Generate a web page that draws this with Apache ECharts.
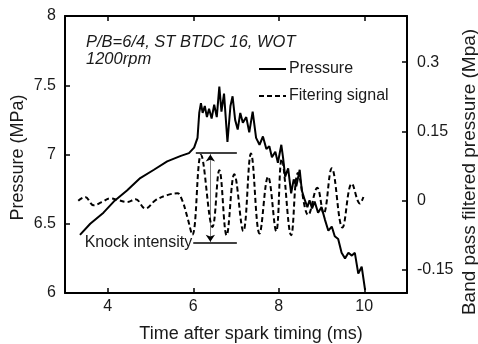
<!DOCTYPE html>
<html>
<head>
<meta charset="utf-8">
<script src="https://cdn.jsdelivr.net/npm/echarts@6/dist/echarts.min.js"></script>
<style>
  html, body { margin: 0; padding: 0; background: #fff; }
  #knock-chart { width: 478px; height: 344px; }
</style>
</head>
<body>
<div id="knock-chart"></div>
<script>
// 轴刻度
var timeTicks = [4, 6, 8, 10]
var filterTicks = [-0.15, 0, 0.15, 0.3]

// 压力曲线 (ms, MPa)
var pressureTime = [3.35, 3.59, 3.9, 4.14, 4.45, 4.76, 5.08, 5.39, 5.71, 5.9, 6.02, 6.1, 6.14, 6.18, 6.22, 6.27, 6.32, 6.37, 6.43, 6.49, 6.55, 6.61, 6.66, 6.72, 6.8, 6.87, 6.92, 6.98, 7.04, 7.1, 7.16, 7.24, 7.31, 7.39, 7.47, 7.55, 7.63, 7.71, 7.78, 7.84, 7.92, 7.98, 8.06, 8.1, 8.15, 8.22, 8.29, 8.35, 8.41, 8.49, 8.54, 8.61, 8.67, 8.72, 8.78, 8.84, 8.92, 9.0, 9.08, 9.16, 9.24, 9.31, 9.39, 9.47, 9.55, 9.63, 9.71, 9.78, 9.86, 9.94, 10.02]
var pressureValue = [6.42, 6.5, 6.58, 6.66, 6.74, 6.83, 6.89, 6.95, 6.99, 7.01, 7.05, 7.12, 7.3, 7.37, 7.3, 7.35, 7.27, 7.33, 7.26, 7.36, 7.27, 7.49, 7.31, 7.44, 7.09, 7.35, 7.42, 7.25, 7.18, 7.3, 7.23, 7.27, 7.16, 7.31, 7.12, 7.07, 7.13, 7.04, 7.06, 6.98, 7.02, 6.94, 7.07, 6.98, 6.84, 6.9, 6.72, 6.82, 6.77, 6.89, 6.74, 6.67, 6.62, 6.67, 6.61, 6.66, 6.58, 6.62, 6.53, 6.45, 6.48, 6.41, 6.39, 6.29, 6.25, 6.29, 6.27, 6.29, 6.14, 6.19, 6.02]

// 带通滤波信号 (ms, MPa)
var filterTime = [3.31, 3.47, 3.67, 3.86, 4.06, 4.25, 4.45, 4.65, 4.88, 5.12, 5.39, 5.63, 5.74, 5.86, 5.98, 6.18, 6.45, 6.61, 6.78, 6.96, 7.17, 7.35, 7.55, 7.75, 7.94, 8.07, 8.29, 8.45, 8.69, 8.9, 9.05, 9.24, 9.49, 9.71, 9.9, 9.98]
var filterValue = [0, 0.008, -0.01, -0.003, 0.005, 0.001, -0.003, 0.003, -0.017, 0.001, 0.012, 0.016, 0.001, -0.035, -0.074, 0.099, -0.057, 0.066, -0.075, 0.057, -0.066, 0.102, -0.071, 0.052, -0.066, 0.09, -0.075, 0.06, -0.031, 0.028, -0.028, 0.07, -0.058, 0.037, -0.006, 0.008]

// 爆震强度标注
var knockTop = 0.103
var knockBottom = -0.091

function zip(xs, ys) {
  return xs.map(function (x, i) { return [x, ys[i]] })
}

var textColor = '#1a1a1a'
var font = 'Liberation Sans, Arial, sans-serif'

var chart = echarts.init(document.getElementById('knock-chart'))
chart.setOption({
  animation: false,
  backgroundColor: '#fff',
  textStyle: { fontFamily: font, color: textColor },
  title: {
    text: 'P/B=6/4, ST BTDC 16, WOT\n1200rpm',
    left: 86,
    top: 34,
    padding: 0,
    textStyle: { fontSize: 16.5, fontWeight: 'normal', fontStyle: 'italic', color: textColor, lineHeight: 17, fontFamily: font }
  },
  legend: {
    orient: 'vertical',
    left: 258,
    top: 61,
    padding: 0,
    itemWidth: 27,
    itemHeight: 14,
    itemGap: 11,
    itemStyle: { opacity: 0 },
    textStyle: { fontSize: 16, color: textColor, padding: [0, 0, 0, -2] },
    data: ['Pressure', 'Fitering signal']
  },
  grid: { left: 65, right: 71, top: 16, bottom: 51, containLabel: false, outerBoundsMode: 'none' },
  xAxis: [
    {
      type: 'value',
      min: 3,
      max: 11,
      name: 'Time after spark timing (ms)',
      nameLocation: 'middle',
      nameGap: 32,
      nameTextStyle: { fontSize: 18, color: textColor, padding: [0, 0, 0, 30] },
      axisLine: { onZero: false, lineStyle: { color: '#000', width: 2 } },
      axisTick: { inside: true, length: 5, customValues: timeTicks, lineStyle: { color: '#000', width: 1.5 } },
      axisLabel: { customValues: timeTicks, fontSize: 16, color: textColor, margin: 6 },
      splitLine: { show: false }
    },
    {
      type: 'value',
      position: 'top',
      min: 3,
      max: 11,
      axisLine: { onZero: false, lineStyle: { color: '#000', width: 2 } },
      axisTick: { inside: true, length: 5, customValues: timeTicks, lineStyle: { color: '#000', width: 1.5 } },
      axisLabel: { show: false },
      splitLine: { show: false }
    }
  ],
  yAxis: [
    {
      type: 'value',
      min: 6,
      max: 8,
      interval: 0.5,
      name: 'Pressure (MPa)',
      nameLocation: 'middle',
      nameGap: 38,
      nameMoveOverlap: false,
      nameTextStyle: { fontSize: 18, color: textColor, padding: [0, 6, 0, 0] },
      axisLine: { show: true, onZero: false, lineStyle: { color: '#000', width: 2 } },
      axisTick: { inside: true, length: 5, lineStyle: { color: '#000', width: 1.5 } },
      axisLabel: { fontSize: 16, color: textColor, margin: 9 },
      splitLine: { show: false }
    },
    {
      type: 'value',
      position: 'right',
      min: -0.2,
      max: 0.4,
      name: 'Band pass filtered pressure (Mpa)',
      nameLocation: 'middle',
      nameGap: 53,
      nameRotate: 90,
      nameMoveOverlap: false,
      nameTextStyle: { fontSize: 19, color: textColor, padding: [0, 35, 0, 0] },
      axisLine: { show: true, onZero: false, lineStyle: { color: '#000', width: 2 } },
      axisTick: { inside: true, length: 5, customValues: filterTicks, lineStyle: { color: '#000', width: 1.5 } },
      axisLabel: { customValues: filterTicks, fontSize: 16, color: textColor, margin: 10 },
      splitLine: { show: false }
    }
  ],
  series: [
    {
      name: 'Pressure',
      type: 'line',
      xAxisIndex: 0,
      yAxisIndex: 0,
      symbol: 'none',
      lineStyle: { color: '#000', width: 2 },
      itemStyle: { color: '#000' },
      data: zip(pressureTime, pressureValue)
    },
    {
      name: 'Fitering signal',
      type: 'line',
      xAxisIndex: 0,
      yAxisIndex: 1,
      symbol: 'none',
      smooth: 0.4,
      lineStyle: { color: '#000', width: 2, type: [5, 3] },
      itemStyle: { color: '#000' },
      data: zip(filterTime, filterValue),
      markLine: {
        silent: true,
        symbol: ['none', 'none'],
        lineStyle: { color: '#000', width: 1.5, type: 'solid' },
        label: { show: false },
        data: [
          [{ coord: [6.06, knockTop] }, { coord: [7.02, knockTop] }],
          [
            {
              coord: [6.0, knockBottom],
              label: { show: true, position: 'start', formatter: 'Knock intensity', fontSize: 16, color: textColor, distance: 1 }
            },
            { coord: [7.02, knockBottom] }
          ],
          [
            { coord: [6.4, knockTop - 0.003], symbol: 'arrow', symbolSize: 7, lineStyle: { type: 'dotted', width: 1 } },
            { coord: [6.4, knockBottom + 0.002], symbol: 'arrow', symbolSize: 7, lineStyle: { type: 'dotted', width: 1 } }
          ]
        ]
      }
    }
  ]
})
</script>
</body>
</html>
